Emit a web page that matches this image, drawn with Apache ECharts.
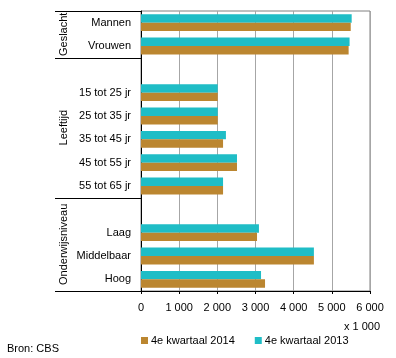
<!DOCTYPE html>
<html><head><meta charset="utf-8">
<script src="https://cdn.jsdelivr.net/npm/echarts@6/dist/echarts.min.js"></script>
<style>html,body{margin:0;padding:0;background:#fff}#c{width:396px;height:358px}</style>
</head><body><div id="c"></div>
<script>
const categories = ['Mannen','Vrouwen',' ','15 tot 25 jr','25 tot 35 jr','35 tot 45 jr','45 tot 55 jr','55 tot 65 jr','  ','Laag','Middelbaar','Hoog'];
const q4_2014 = [5495, 5440, null, 2010, 2010, 2150, 2515, 2150, null, 3040, 4530, 3250];
const q4_2013 = [5520, 5465, null, 2010, 2010, 2225, 2515, 2150, null, 3090, 4530, 3145];
const xTicks = [0, 1000, 2000, 3000, 4000, 5000, 6000];
const groups = [
  {name: 'Geslacht', first: 0, last: 1},
  {name: 'Leeftijd', first: 2, last: 7},
  {name: 'Onderwijsniveau', first: 8, last: 11}
];
const seriesNames = ['4e kwartaal 2014', '4e kwartaal 2013'];
const FONT = 'Liberation Sans, Arial, sans-serif';
const chart = echarts.init(document.getElementById('c'), null, {renderer: 'canvas'});
const fmt = v => String(v).replace(/\B(?=(\d{3})+(?!\d))/g, ' ');
const option = {
  animation: false,
  textStyle: {fontFamily: FONT},
  grid: {left: 141, right: 26, top: 11, bottom: 67, show: true, borderColor: '#808080', borderWidth: 1},
  legend: {
    data: seriesNames, left: 136, top: 330, icon: 'rect', itemWidth: 7, itemHeight: 7, itemGap: 20,
    textStyle: {fontSize: 11, color: '#000', fontFamily: FONT, padding: [0, 0, 0, -2]}
  },
  xAxis: {
    type: 'value', min: xTicks[0], max: xTicks[xTicks.length-1], interval: 1000,
    axisLine: {show: true, lineStyle: {color: '#000'}},
    axisTick: {show: true, length: 3, lineStyle: {color: '#000'}},
    axisLabel: {fontSize: 11, color: '#000', margin: 11, formatter: fmt, fontFamily: FONT},
    splitLine: {show: true, lineStyle: {color: '#a6a6a6', width: 1}}
  },
  yAxis: {
    type: 'category', data: categories, inverse: true,
    axisLine: {show: true, lineStyle: {color: '#000'}},
    axisTick: {show: false},
    axisLabel: {fontSize: 11, color: '#000', margin: 10, fontFamily: FONT},
    splitLine: {show: false}
  },
  series: [
    {name: seriesNames[1], type: 'bar', data: q4_2013, itemStyle: {color: '#1fbdc6'}, barGap: '0%', barCategoryGap: '28%'},
    {name: seriesNames[0], type: 'bar', data: q4_2014, itemStyle: {color: '#bb8630'}, barGap: '0%', barCategoryGap: '28%'}
  ]
};
chart.setOption(option);
// group decorations computed from the axis scale
const y0 = chart.convertToPixel({yAxisIndex: 0}, 0);
const y1 = chart.convertToPixel({yAxisIndex: 0}, 1);
const band = y1 - y0;
const axisX = chart.convertToPixel({xAxisIndex: 0}, 0);
const gEls = [];
const lineX0 = 55;
groups.forEach((g, i) => {
  const top = chart.convertToPixel({yAxisIndex: 0}, g.first) - band / 2;
  const bot = chart.convertToPixel({yAxisIndex: 0}, g.last) + band / 2;
  if (i === 0) gEls.push({type: 'line', shape: {x1: lineX0, y1: Math.round(top)+0.5, x2: axisX, y2: Math.round(top)+0.5}, style: {stroke: '#000', lineWidth: 1}, z: 100});
  gEls.push({type: 'line', shape: {x1: lineX0, y1: Math.round(bot)+0.5, x2: axisX, y2: Math.round(bot)+0.5}, style: {stroke: '#000', lineWidth: 1}, z: 100});
  gEls.push({type: 'text', x: 64, y: (top + bot) / 2, rotation: Math.PI / 2,
    style: {text: g.name, fontSize: 11, fill: '#000', fontFamily: FONT, align: 'center', verticalAlign: 'middle'}, z: 100});
});
gEls.push({type: 'text', x: 380, y: 327, style: {text: 'x 1 000', fontSize: 11, fill: '#000', fontFamily: FONT, align: 'right', verticalAlign: 'middle'}});
gEls.push({type: 'text', x: 7, y: 349, style: {text: 'Bron: CBS', fontSize: 11, fill: '#000', fontFamily: FONT, align: 'left', verticalAlign: 'middle'}});
chart.setOption({graphic: {elements: gEls}});
</script></body></html>
